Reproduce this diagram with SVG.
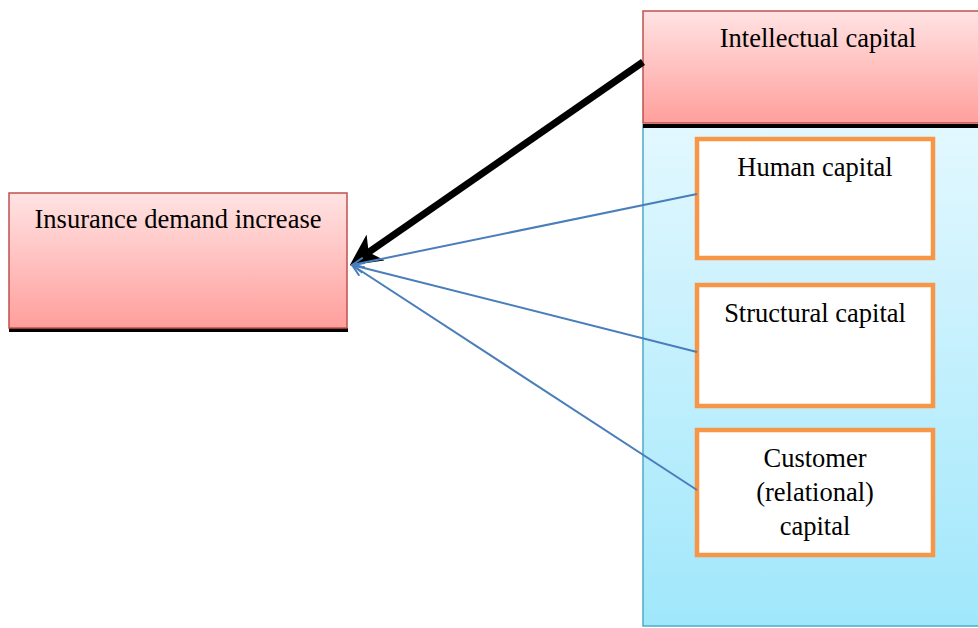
<svg xmlns="http://www.w3.org/2000/svg" width="978" height="628" viewBox="0 0 978 628">
<defs>
<linearGradient id="pink" x1="0" y1="0" x2="0" y2="1"><stop offset="0" stop-color="#ffe3e3"/><stop offset="1" stop-color="#ff9f9c"/></linearGradient>
<linearGradient id="blue" x1="0" y1="0" x2="0" y2="1"><stop offset="0" stop-color="#e3f8ff"/><stop offset="1" stop-color="#a0e7fb"/></linearGradient>
<marker id="bigArrow" markerWidth="4.5" markerHeight="4.5" refX="3.4" refY="2.25" orient="auto" markerUnits="strokeWidth"><path d="M0,0 L4.5,2.25 L0,4.5 L1.2,2.25 Z" fill="#000"/></marker>
<marker id="openArrow" markerWidth="14" markerHeight="12" refX="13" refY="6" orient="auto" markerUnits="userSpaceOnUse"><path d="M1,1 L13,6 L1,11" fill="none" stroke="#4a7ebb" stroke-width="2"/></marker>
</defs>
<style>
.red{fill:url(#pink);stroke:#c0504d;stroke-width:1.5}
.panel{fill:url(#blue);stroke:#4bacc6;stroke-width:1.5}
.sub{fill:#fff;stroke:#f79646;stroke-width:4.5}
.t{font-family:"Liberation Serif","Times New Roman",serif;font-size:26.5px;fill:#000;text-anchor:middle}
.blueline{stroke:#4a7ebb;stroke-width:2;fill:none;marker-end:url(#openArrow)}
</style>
<g id="panel"><rect class="panel" x="643" y="125" width="340" height="501"/></g>
<g id="intellectual"><rect x="643" y="124" width="340" height="4" fill="#000"/><rect class="red" x="643" y="11" width="340" height="112"/><text class="t" x="818" y="47">Intellectual capital</text></g>
<g id="insurance"><rect x="9" y="328" width="339" height="4" fill="#000"/><rect class="red" x="9" y="193" width="338" height="135"/><text class="t" x="178" y="228">Insurance demand increase</text></g>
<g id="human"><rect class="sub" x="697" y="139" width="236" height="119"/><text class="t" x="815" y="176">Human capital</text></g>
<g id="structural"><rect class="sub" x="697" y="285" width="236" height="121"/><text class="t" x="815" y="322">Structural capital</text></g>
<g id="customer"><rect class="sub" x="697" y="430" width="236" height="125"/><text class="t" x="815" y="467">Customer</text><text class="t" x="815" y="501">(relational)</text><text class="t" x="815" y="535">capital</text></g>
<g id="connectors">
<line x1="643" y1="62" x2="356" y2="261" stroke="#000" stroke-width="7" marker-end="url(#bigArrow)"/>
<line class="blueline" x1="697" y1="194" x2="352" y2="265"/>
<line class="blueline" x1="697" y1="352" x2="352" y2="265"/>
<line class="blueline" x1="697" y1="490" x2="352" y2="265"/>
</g>
</svg>
